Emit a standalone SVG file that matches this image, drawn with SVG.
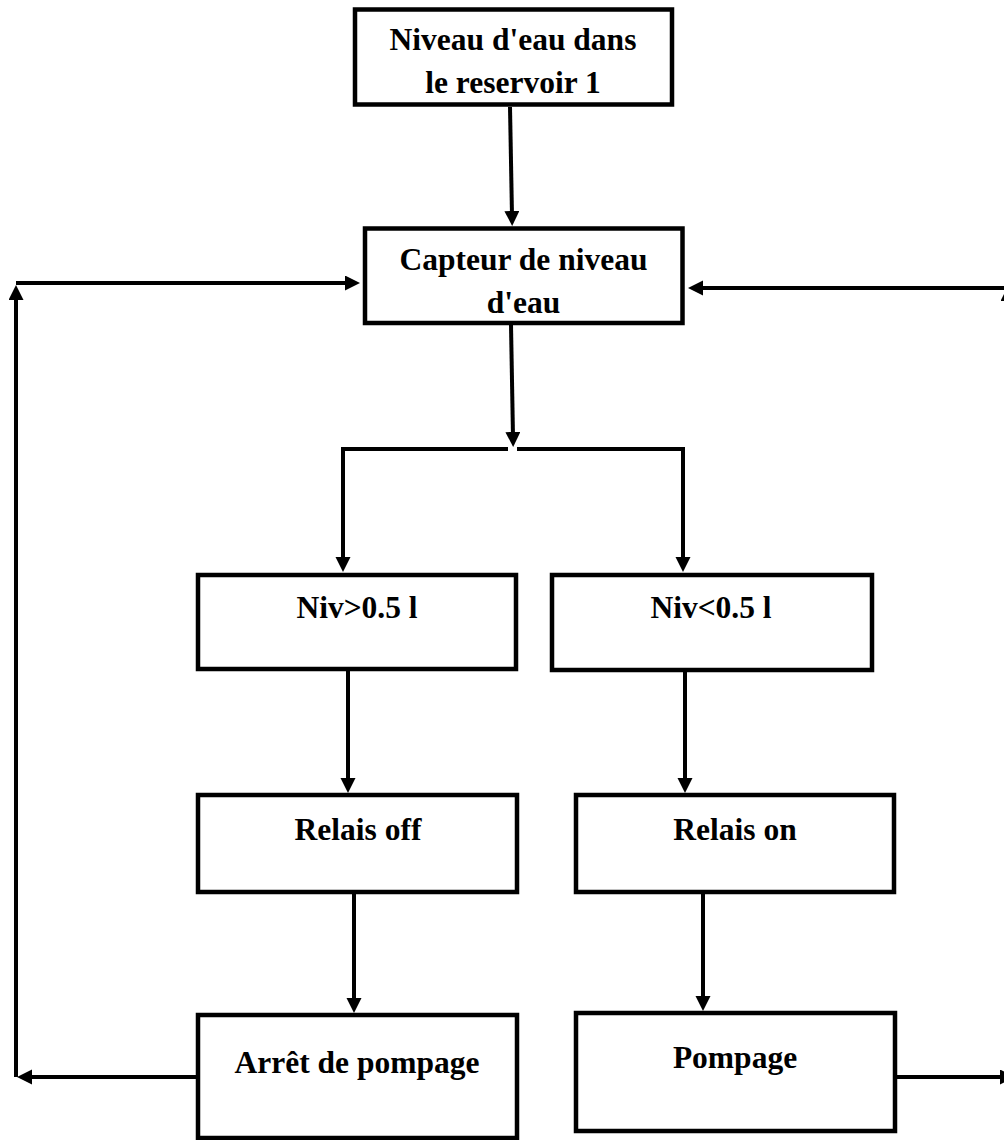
<svg xmlns="http://www.w3.org/2000/svg" width="1004" height="1140" viewBox="0 0 1004 1140">
  <style>
    .box { fill: #ffffff; stroke: #000000; stroke-width: 4.5; }
    .lbl { font-family: "Liberation Serif", "Times New Roman", serif; font-weight: bold; font-size: 31.5px; fill: #000000; text-anchor: middle; }
    .wire { fill: none; stroke: #000000; stroke-width: 4; stroke-linejoin: miter; marker-end: url(#head); }
    .plain { fill: none; stroke: #000000; stroke-width: 4; }
  </style>
  <defs>
    <marker id="head" markerUnits="userSpaceOnUse" markerWidth="16" markerHeight="16" refX="5" refY="7.5" orient="auto">
      <path d="M0,0 L15,7.5 L0,15 z" fill="#000000"/>
    </marker>
  </defs>

  <rect width="1004" height="1140" fill="#ffffff"/>

  <!-- connectors -->
  <g id="connectors">
    <path class="wire" d="M510,107 L512,216"/>
    <path class="wire" d="M511,325 L513,437"/>
    <path class="wire" d="M508,449 H343 V562"/>
    <path class="wire" d="M517,449 H683 V562"/>
    <path class="wire" d="M348,670 V783"/>
    <path class="wire" d="M685,670 V783"/>
    <path class="wire" d="M354,892 V1003"/>
    <path class="wire" d="M703,892 V1001"/>
    <path class="wire" d="M198,1077 H27"/>
    <path class="wire" d="M16,1077 V295"/>
    <path class="wire" d="M16,283 H350"/>
    <path class="wire" d="M895,1077 H1005"/>
    <path class="wire" d="M1008,1077 V296"/>
    <path class="wire" d="M1008,288 H698"/>
  </g>

  <!-- nodes -->
  <g id="niveau-reservoir">
    <rect class="box" x="355" y="9.5" width="317" height="95"/>
    <text class="lbl" x="513" y="50">Niveau d'eau dans</text>
    <text class="lbl" x="513" y="93">le reservoir 1</text>
  </g>

  <g id="capteur">
    <rect class="box" x="365" y="228.5" width="317.5" height="94.5"/>
    <text class="lbl" x="523.5" y="270">Capteur de niveau</text>
    <text class="lbl" x="523.5" y="313">d'eau</text>
  </g>

  <g id="niv-sup">
    <rect class="box" x="198" y="575" width="318" height="94"/>
    <text class="lbl" x="357" y="618">Niv&gt;0.5 l</text>
  </g>

  <g id="niv-inf">
    <rect class="box" x="552" y="575" width="320" height="95"/>
    <text class="lbl" x="711" y="618">Niv&lt;0.5 l</text>
  </g>

  <g id="relais-off">
    <rect class="box" x="198" y="795" width="319" height="97"/>
    <text class="lbl" x="358" y="840">Relais off</text>
  </g>

  <g id="relais-on">
    <rect class="box" x="576" y="795" width="318" height="97"/>
    <text class="lbl" x="735" y="840">Relais on</text>
  </g>

  <g id="arret-pompage">
    <rect class="box" x="198" y="1015" width="319" height="123"/>
    <text class="lbl" x="357" y="1073">Arrêt de pompage</text>
  </g>

  <g id="pompage">
    <rect class="box" x="576" y="1013" width="319" height="118"/>
    <text class="lbl" x="735" y="1068">Pompage</text>
  </g>
</svg>
